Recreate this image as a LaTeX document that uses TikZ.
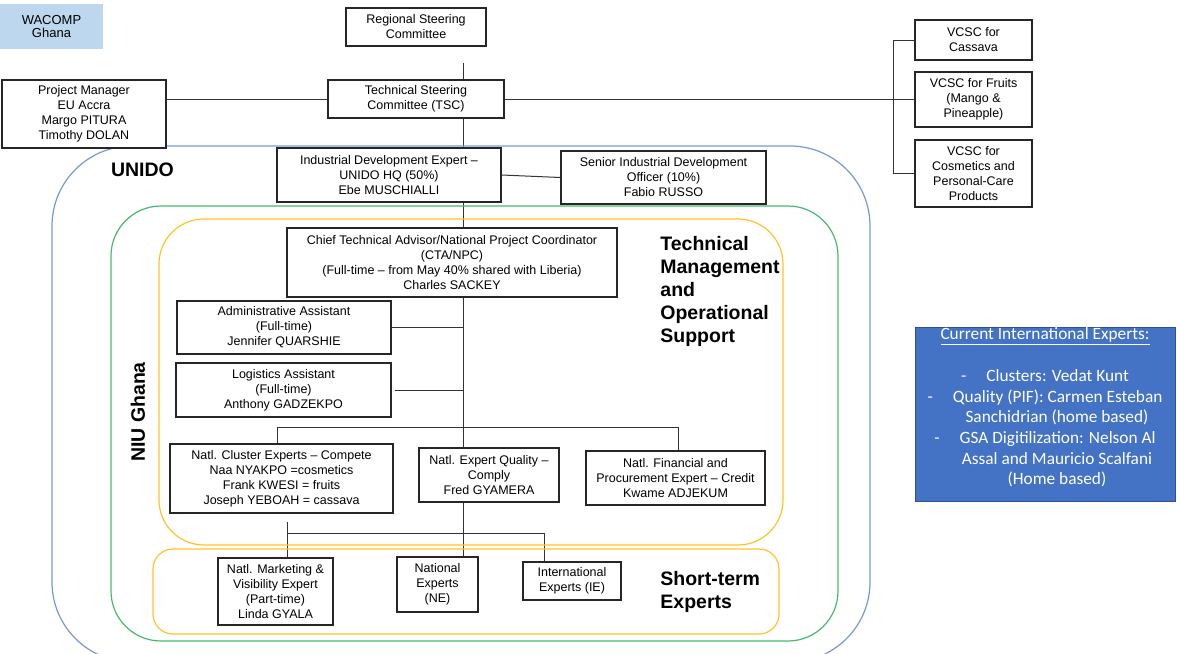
\documentclass[tikz,border=0pt]{standalone}
\usepackage{fontspec}
\newfontfamily\arialfont{Liberation Sans}
\newfontfamily\calibrifont{Carlito}
\usetikzlibrary{backgrounds}
\definecolor{wacompblue}{RGB}{189,215,238}
\definecolor{intlblue}{RGB}{68,114,196}
\definecolor{intlborder}{RGB}{47,82,143}
\definecolor{unidoline}{RGB}{120,150,212}
\definecolor{niuline}{RGB}{70,185,110}
\definecolor{tmline}{RGB}{255,195,40}

\begin{document}
\begin{tikzpicture}[x=1pt,y=-1pt,thick,
  box node/.style={draw=black!85,fill=white,line width=1.1pt,align=center,inner sep=2pt,font=\arialfont\fontsize{12.5}{15}\selectfont},
  head label/.style={font=\arialfont\bfseries\fontsize{19.5}{23}\selectfont,align=left,inner sep=0pt},
  link/.style={draw=black!80,line width=1pt},
  unit frame/.style={line width=1.2pt,rounded corners=#1}]

  \useasboundingbox (0,0) rectangle (1177,653);

  \draw[unit frame=80pt,unidoline] (52,146) rectangle (870,662);
  \draw[unit frame=50pt,niuline] (111,206) rectangle (838,641);
  \draw[unit frame=45pt,tmline] (159,219) rectangle (783,545);
  \draw[unit frame=20pt,tmline] (153,549) rectangle (779,634);

  \node[head label] (unidolabel) at (142.5,170) {UNIDO};
  \node[head label,rotate=90] (niulabel) at (138,412) {NIU Ghana};
  \node[head label,anchor=west] (tmlabel) at (660,291.5) {Technical\\Management\\and\\Operational\\Support};
  \node[head label,anchor=west] (stlabel) at (660,591.5) {Short-term\\Experts};

  \node[box node,draw=none,fill=wacompblue,minimum width=103pt,minimum height=45pt,font=\arialfont\fontsize{13}{13.5}\selectfont] (wacomp) at (51.5,26.5) {WACOMP\\Ghana};
  \node[box node,minimum width=140pt,minimum height=38pt] (rsc) at (416,27) {Regional Steering\\Committee};
  \node[box node,minimum width=176pt,minimum height=38pt] (tsc) at (416,99) {Technical Steering\\Committee (TSC)};
  \node[box node,minimum width=164pt,minimum height=68pt] (pm) at (84,114) {Project Manager\\EU Accra\\Margo PITURA\\Timothy DOLAN};
  \node[box node,minimum width=117pt,minimum height=40pt] (vcsc1) at (973.5,40) {VCSC for\\Cassava};
  \node[box node,minimum width=117pt,minimum height=55pt] (vcsc2) at (973.5,99.5) {VCSC for Fruits\\(Mango \&\\Pineapple)};
  \node[box node,minimum width=117pt,minimum height=67pt] (vcsc3) at (973.5,173.5) {VCSC for\\Cosmetics and\\Personal-Care\\Products};
  \node[box node,minimum width=224pt,minimum height=54pt] (ide) at (389,175) {Industrial Development Expert –\\UNIDO HQ (50\%)\\Ebe MUSCHIALLI};
  \node[box node,minimum width=205pt,minimum height=53pt] (sido) at (663.5,177.5) {Senior Industrial Development\\Officer (10\%)\\Fabio RUSSO};
  \node[box node,minimum width=330pt,minimum height=69pt] (cta) at (452,262.5) {Chief Technical Advisor/National Project Coordinator\\(CTA/NPC)\\(Full-time – from May 40\% shared with Liberia)\\Charles SACKEY};
  \node[box node,minimum width=214pt,minimum height=53pt] (admin) at (284,327.5) {Administrative Assistant\\(Full-time)\\Jennifer QUARSHIE};
  \node[box node,minimum width=215pt,minimum height=54pt] (logi) at (283.5,390) {Logistics Assistant\\(Full-time)\\Anthony GADZEKPO};
  \node[box node,minimum width=223pt,minimum height=69pt] (cluster) at (281.5,478.5) {Natl. Cluster Experts – Compete\\Naa NYAKPO =cosmetics\\Frank KWESI = fruits\\Joseph YEBOAH = cassava};
  \node[box node,minimum width=140pt,minimum height=54pt] (quality) at (489,475) {Natl. Expert Quality –\\Comply\\Fred GYAMERA};
  \node[box node,minimum width=179pt,minimum height=54pt] (finance) at (675.5,478) {Natl. Financial and\\Procurement Expert – Credit\\Kwame ADJEKUM};
  \node[box node,minimum width=115pt,minimum height=67pt] (market) at (275.5,591.5) {Natl. Marketing \&\\Visibility Expert\\(Part-time)\\Linda GYALA};
  \node[box node,minimum width=81pt,minimum height=55pt] (ne) at (437.5,584.5) {National\\Experts\\(NE)};
  \node[box node,minimum width=98pt,minimum height=38pt] (ie) at (572,581) {International\\Experts (IE)};

  \node[fill=intlblue,draw=intlborder,line width=1pt,minimum width=260pt,minimum height=174pt] (intl) at (1045,414) {};
  \node[anchor=north,text=white,align=center,inner sep=0pt,font=\calibrifont\fontsize{17.3}{20.7}\selectfont] (intltext) at ([yshift=-1pt]intl.north)
    {\underline{Current International Experts:}\\[20.7pt]
     -\hspace{20pt}Clusters: Vedat Kunt\\
     -\hspace{20pt}Quality (PIF): Carmen Esteban\\
     \hspace*{24pt}Sanchidrian (home based)\\
     -\hspace{20pt}GSA Digitilization: Nelson Al\\
     \hspace*{24pt}Assal and Mauricio Scalfani\\
     \hspace*{24pt}(Home based)};

  \coordinate (top) at (463,63);
  \coordinate (st) at (287,522);

  \begin{scope}[on background layer]
    \draw[link] (top) -- (top |- quality.north);
    \draw[link] (top |- quality.south) -- (top |- ne.north);
    \draw[link] (pm.east |- tsc.west) -- (tsc.west);
    \draw[link] (tsc.east) -- (tsc.east -| vcsc2.west);
    \draw[link] (vcsc1.west) -- ++(-21,0) |- (vcsc3.west);
    \draw[link] (ide.east) -- (sido.west);
    \draw[link] (admin.east) -- (admin.east -| top);
    \draw[link] ([xshift=3pt]logi.east) -- (logi.east -| top);
    \draw[link] ([xshift=-4.5pt]cluster.north) |- ++(0,-16) -| ([xshift=2.5pt]finance.north);
    \draw[link] (st) -- (st |- market.north);
    \draw[link] ([yshift=-11pt]st) -| ([xshift=-28pt]ie.north);
  \end{scope}
\end{tikzpicture}
\end{document}
